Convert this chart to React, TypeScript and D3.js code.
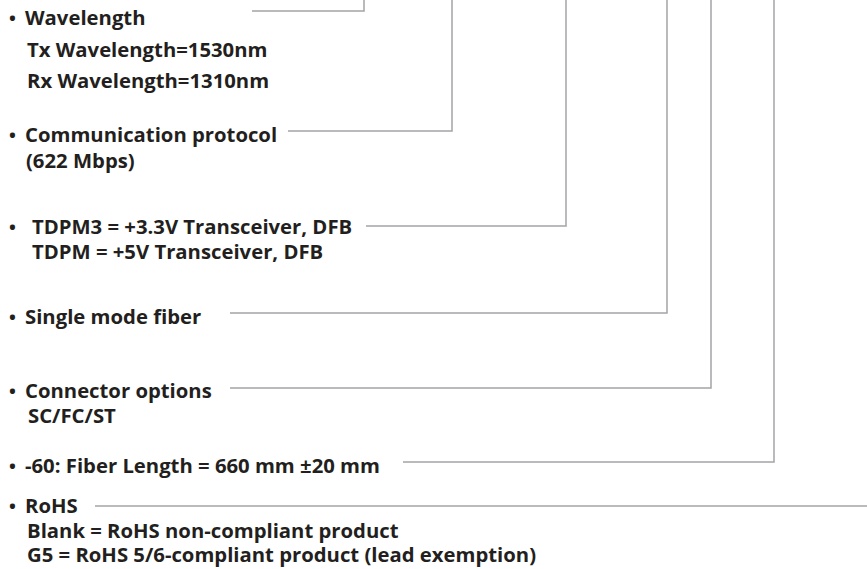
import * as d3 from "d3";

// Ordering-code legend: each option with its sub-lines
const titles = [
  "Wavelength",
  "Communication protocol",
  "TDPM3 = +3.3V Transceiver, DFB",
  "Single mode fiber",
  "Connector options",
  "-60: Fiber Length = 660 mm \u00b120 mm",
  "RoHS",
];

const subLines = [
  ["Tx Wavelength=1530nm", "Rx Wavelength=1310nm"],
  ["(622 Mbps)"],
  ["TDPM = +5V Transceiver, DFB"],
  [],
  ["SC/FC/ST"],
  [],
  ["Blank = RoHS non-compliant product", "G5 = RoHS 5/6-compliant product (lead exemption)"],
];

// layout of the diagram (pixels)
const titleBaseline = [25, 142, 234, 324, 398, 473, 513];
const lineGap = [31.5, 26, 25, 25, 25, 25, 24.5];
const titleX = [25, 25, 32, 25, 25, 25, 25];
const subX = [27, 26, 32, 27, 28, 27, 27];
const leaderY = [11, 131, 226, 313, 388, 462, 506];
const leaderStart = [252, 288, 366, 230, 230, 403, 95];
const leaderColumn = [364, 452, 566, 667, 711, 774, null];

const width = 867;
const height = 569;
const fontSize = 20.3;

export default function App() {
  const line = d3
    .line<[number, number]>()
    .x((d) => d[0])
    .y((d) => d[1]);

  const leaders = titles.map((_, i) => {
    const col = leaderColumn[i];
    const pts: [number, number][] =
      col === null
        ? [
            [leaderStart[i], leaderY[i]],
            [width, leaderY[i]],
          ]
        : [
            [leaderStart[i], leaderY[i]],
            [col, leaderY[i]],
            [col, 0],
          ];
    return line(pts);
  });

  return (
    <svg
      width={width}
      height={height}
      style={{ position: "absolute", left: 0, top: 0, background: "#fff" }}
    >
      <g fill="none" stroke="#a4a4a6" strokeWidth={1.5}>
        {leaders.map((d, i) => (
          <path key={i} d={d ?? ""} />
        ))}
      </g>
      <g
        fill="#231f20"
        fontFamily="'Open Sans', 'Noto Sans', sans-serif"
        fontWeight={700}
        fontSize={fontSize}
      >
        {titles.map((t, i) => (
          <g key={t}>
            <text x={9} y={titleBaseline[i]} fontSize={fontSize * 0.9}>
              {"\u2022"}
            </text>
            <text x={titleX[i]} y={titleBaseline[i]}>
              {t}
            </text>
            {subLines[i].map((s, j) => (
              <text key={s} x={subX[i]} y={titleBaseline[i] + lineGap[i] * (j + 1)}>
                {s}
              </text>
            ))}
          </g>
        ))}
      </g>
    </svg>
  );
}
